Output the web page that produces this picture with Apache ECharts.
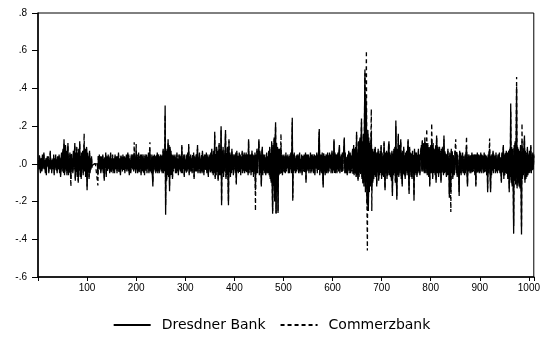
<!DOCTYPE html>
<html>
<head>
<meta charset="utf-8">
<script src="https://cdn.jsdelivr.net/npm/echarts@6/dist/echarts.min.js"></script>
<style>
  html, body { margin: 0; padding: 0; background: #fff; }
  #chart { width: 543px; height: 339px; }
</style>
</head>
<body>
<div id="chart"></div>
<script>
// Daily returns, observations 1..1010 (ten per row)
const dresdner = [
  .02,-.03,.04,-.01,-.05,.03,.01,-.04,.05,-.02,
  -.03,.06,-.02,.01,-.04,.03,-.06,.02,.04,-.01,
  .03,-.05,.02,-.02,.07,-.03,.01,-.04,.02,.03,
  -.02,.04,-.06,.03,-.01,.05,-.03,.02,-.05,.04,
  .01,-.02,.05,-.04,.02,-.07,.03,.06,-.03,.02,
  .08,-.04,.13,-.06,.05,.10,-.03,.07,-.05,.04,
  .11,-.06,.03,-.04,.06,-.02,-.08,.05,-.03,.02,
  -.05,.07,-.02,.04,.11,-.09,.06,-.04,.09,-.07,
  .05,-.10,.08,-.03,.12,-.06,.04,-.08,.06,-.02,
  .07,-.05,.03,.10,-.04,.08,-.07,.05,.09,-.14,
  .06,-.04,.03,-.08,.07,-.05,.02,-.03,.04,-.01,
  0,0,0,0,0,0,0,0,0,0,
  0,-.06,.04,-.02,.05,-.03,.03,-.05,.02,.04,
  -.03,.05,-.04,.02,-.09,.03,-.02,.06,-.07,.01,
  .04,-.03,.05,-.02,.03,-.05,.02,.06,-.04,.03,
  -.02,.04,-.05,.03,.02,-.04,.05,-.03,.01,.04,
  -.05,.03,-.02,.06,-.04,.02,.03,-.06,.04,-.02,
  .03,-.04,.05,-.03,.02,.04,-.05,.03,-.02,.05,
  -.04,.02,.06,-.03,.04,-.06,.02,.03,-.05,.04,
  -.02,.05,-.03,.04,-.04,.06,-.02,.03,-.05,.07,
  -.03,.04,-.05,.02,.06,-.04,.03,-.02,.05,-.06,
  .04,-.03,.02,.05,-.04,.03,-.06,.04,.02,-.03,
  .05,-.04,.03,-.02,.06,-.05,.04,.07,-.03,.02,
  -.04,.05,-.06,-.12,.04,-.03,.05,-.02,.03,-.05,
  .04,-.03,.06,-.05,.02,.04,-.04,.03,-.02,.05,
  -.03,.04,-.05,.03,.08,-.04,.06,-.03,.31,-.27,
  .06,-.09,.08,-.05,.13,-.07,.10,-.145,.09,-.06,
  .07,-.05,.04,-.08,.05,-.03,.04,-.02,.05,-.04,
  .03,-.05,.06,-.03,.02,-.06,.04,-.02,.05,-.03,
  .04,-.04,.10,-.05,.03,-.02,.05,-.07,.04,-.03,
  .02,-.04,.05,-.03,.06,-.02,.105,-.06,.03,-.04,
  .05,-.03,.02,-.05,.04,-.02,.06,-.08,.03,.02,
  -.04,.05,-.03,.04,.10,-.05,.03,-.02,.06,-.04,
  .02,-.05,.04,-.03,.07,-.04,.03,-.06,.05,-.02,
  .04,-.03,.06,-.05,.02,.04,-.07,.03,-.02,.05,
  -.04,.06,-.03,.08,-.05,.04,-.06,.07,-.04,.17,
  -.08,.05,-.06,.09,-.04,.07,-.09,.05,.11,-.06,
  .08,-.05,.20,-.22,.06,-.04,.09,-.07,.05,-.03,
  .07,.18,-.08,.05,-.06,.09,-.05,-.22,.13,-.04,
  .06,-.07,.04,-.05,.08,-.03,.05,-.06,.04,-.02,
  .05,-.04,.06,-.11,.07,-.03,.04,-.05,.03,.06,
  -.04,.05,-.06,.03,-.02,.07,-.05,.04,-.03,.06,
  -.05,.04,-.03,.06,-.04,.02,.05,-.06,.13,-.04,
  .05,-.03,.04,-.06,.03,.07,-.04,.05,-.07,.04,
  -.03,.06,-.14,.05,-.04,.08,-.05,.06,.03,.13,
  -.06,.07,-.04,.05,-.12,.06,.09,-.05,.04,-.03,
  .05,-.04,.03,-.06,.04,.06,-.05,.03,-.04,.07,
  -.06,.09,-.08,.05,-.10,.12,-.09,-.265,.10,-.12,
  .14,-.20,.09,.22,-.265,.11,-.15,.08,-.26,.07,
  -.06,.08,-.05,.06,.09,-.04,.05,-.06,.04,-.03,
  .05,-.04,.03,-.05,.06,-.03,.04,-.02,.05,-.04,
  .03,-.05,.04,-.02,.06,-.04,.03,.245,-.195,.05,
  -.04,.06,-.03,.02,-.05,.04,-.03,.05,-.02,.04,
  -.05,.03,.06,-.04,.02,-.03,.05,-.06,.04,.02,
  -.03,.05,-.04,.03,.06,-.10,.04,-.03,.05,-.02,
  .04,-.05,.03,-.02,.06,-.04,.05,-.03,.02,.04,
  -.04,.03,.05,-.06,.04,-.02,.03,.06,-.05,.04,
  -.03,.12,.185,-.06,.04,-.03,.05,-.04,.06,-.05,
  -.125,.05,-.03,.04,-.06,.03,.05,-.04,.02,.06,
  -.05,.04,-.03,.06,-.02,.05,-.04,.03,.07,-.05,
  .04,-.03,.13,-.04,.06,-.05,.03,.05,-.04,.02,
  .06,-.03,.04,.10,-.05,.03,-.02,.05,-.04,.06,
  -.03,.05,.08,.14,-.04,.06,-.05,.03,.04,-.06,
  .05,-.03,.07,-.04,.02,.06,-.05,.04,-.03,.05,
  .08,-.05,.10,-.06,.07,-.04,.09,-.07,.17,-.06,
  .05,-.09,.12,-.06,.08,.14,-.05,.10,.24,-.08,
  .12,-.10,.16,-.12,.22,.50,-.15,.35,.28,-.20,
  -.22,.18,-.25,.12,-.15,.10,-.12,.09,.17,-.14,
  .08,-.10,.06,-.08,.07,-.05,.09,-.07,.05,-.12,
  .06,-.04,.08,-.09,.05,-.06,.07,-.04,.10,-.08,
  .05,-.06,.04,-.07,.12,-.05,-.14,.06,-.04,.07,
  -.08,.05,-.06,.09,.12,-.05,.06,-.07,.04,-.09,
  .07,-.17,.05,-.06,.08,-.04,.09,-.10,.23,-.06,
  -.19,.08,-.05,.16,-.07,.10,-.04,.06,.13,-.08,
  .05,-.12,.07,-.05,.09,-.06,.04,-.08,.06,-.03,
  .07,-.05,.08,.13,-.06,-.16,.09,-.04,.06,-.07,
  .05,-.08,.07,-.05,.04,-.195,.08,-.06,.05,-.04,
  .06,-.07,.04,-.05,.08,-.03,.05,-.06,.04,.07,
  .09,-.04,.12,-.03,.08,.10,-.05,.14,.06,-.04,
  .11,.09,-.06,.10,.05,-.07,.08,-.12,.07,.09,
  -.05,.13,.06,-.08,.10,-.04,.07,.05,-.06,.09,
  -.10,.15,.06,-.05,.08,-.07,.04,.09,-.05,.06,
  -.10,.07,-.04,.08,.05,-.06,.15,-.05,.06,-.04,
  .05,-.07,.04,-.06,.08,-.05,.03,-.18,.06,-.09,
  -.15,.07,-.05,.06,-.08,.04,.05,-.06,.04,.07,
  .08,-.05,.06,-.07,.04,.05,-.06,-.17,.07,-.04,
  .05,-.06,.04,-.03,.06,-.05,.03,.04,-.06,.05,
  -.04,.06,.09,-.05,-.12,.04,-.03,.05,.06,-.04,
  .04,-.05,.03,.06,-.04,.05,-.03,.02,.05,-.06,
  .04,-.12,.05,-.03,.06,-.04,.03,.05,-.05,.04,
  -.03,.06,-.04,.05,-.02,.04,-.05,.03,.06,-.04,
  .05,-.03,.04,-.06,.03,-.15,.05,-.04,.06,.08,
  -.05,-.15,.04,-.06,.05,-.03,.07,-.04,.05,-.02,
  .04,-.05,.06,-.03,.02,-.04,.05,-.03,.04,.06,
  -.05,.03,.04,-.10,.06,-.04,.05,.10,-.08,.04,
  -.06,.05,-.04,.07,-.05,.06,-.08,.04,.07,-.15,
  .08,-.06,.32,-.10,.09,-.12,.07,-.08,-.37,.10,
  -.09,.12,-.11,.08,.41,-.13,.09,-.10,.07,-.12,
  .06,-.13,.10,-.09,-.375,.12,-.08,.07,-.06,.09,
  .15,-.10,.06,-.08,.05,-.07,.09,-.06,.04,-.05,
  .07,-.04,.06,.10,-.05,.04,-.03,.06,-.02,.04
];

const commerzbank = [
  .01,-.02,.05,-.02,-.04,.02,.02,-.03,.04,-.03,
  -.02,.05,-.03,.02,-.05,.02,-.05,.03,.03,-.02,
  .04,-.04,.01,-.03,.06,-.02,.02,-.05,.03,.02,
  -.03,.05,-.05,.02,-.02,.04,-.04,.03,-.04,.03,
  .02,-.03,.04,-.05,.03,-.06,.02,.05,-.04,.03,
  .07,-.05,.11,-.05,.06,.09,-.04,.06,-.06,.05,
  .10,-.05,.04,-.05,.05,-.03,-.12,.06,-.02,.03,
  -.04,.06,-.03,.05,.10,-.08,.05,-.05,.08,-.06,
  .06,-.09,.07,-.04,.11,-.07,.05,-.07,.05,-.03,
  .06,-.06,.04,.16,-.03,.07,-.06,.04,.08,-.12,
  .05,-.05,.04,-.07,.06,-.04,.03,-.02,.03,-.02,
  0,0,0,0,0,0,0,0,0,0,
  0,-.115,.05,-.03,.04,-.02,.04,-.04,.03,.03,
  -.02,.04,-.05,.03,-.08,.04,-.03,.05,-.06,.02,
  .03,-.04,.04,-.03,.04,-.04,.03,.05,-.05,.02,
  -.03,.05,-.04,.02,.03,-.05,.04,-.02,.02,.03,
  -.04,.04,-.03,.05,-.05,.03,.02,-.05,.05,-.03,
  .04,-.03,.04,-.04,.03,.03,-.04,.04,-.03,.04,
  -.03,.03,.05,-.04,.05,-.05,.03,.02,-.04,.05,
  -.03,.04,-.02,.05,-.03,.115,-.03,.04,-.04,.105,
  -.02,.05,-.04,.03,.05,-.05,.04,-.03,.04,-.05,
  .05,-.04,.03,.04,-.05,.04,-.05,.05,.03,-.04,
  .04,-.05,.04,-.03,.05,-.04,.05,.115,-.04,.03,
  -.05,.04,-.05,-.10,.05,-.04,.04,-.03,.04,-.04,
  .05,-.04,.05,-.04,.03,.05,-.05,.04,-.03,.04,
  -.04,.05,-.04,.04,.07,-.05,.05,-.04,.26,-.22,
  .07,-.08,.07,-.06,.11,-.06,.09,-.12,.08,-.05,
  .06,-.06,.05,-.07,.04,-.04,.05,-.03,.04,-.05,
  .04,-.04,.05,-.04,.03,-.05,.05,-.03,.04,-.04,
  .03,-.05,.09,-.04,.04,-.03,.04,-.06,.05,-.04,
  .03,-.05,.04,-.04,.05,-.03,.09,-.05,.04,-.03,
  .04,-.04,.03,-.04,.05,-.03,.05,-.07,.04,.03,
  -.03,.04,-.04,.05,.08,-.04,.04,-.03,.05,-.05,
  .03,-.04,.05,-.04,.06,-.05,.04,-.05,.04,-.03,
  .05,-.04,.05,-.04,.03,.05,-.06,.04,-.03,.04,
  -.05,.05,-.04,.07,-.04,.05,-.05,.06,-.05,.15,
  -.07,.06,-.05,.08,-.05,.06,-.08,.06,.10,-.05,
  .07,-.06,.18,-.20,.07,-.05,.08,-.06,.06,-.04,
  .06,.16,-.07,.06,-.05,.08,-.06,-.20,.12,-.05,
  .05,-.06,.05,-.04,.07,-.04,.04,-.05,.05,-.03,
  .04,-.05,.05,-.10,.06,-.04,.05,-.04,.04,.05,
  -.05,.04,-.05,.04,-.03,.06,-.04,.05,-.04,.05,
  -.04,.05,-.04,.05,-.05,.03,.04,-.05,.12,-.05,
  .04,-.04,.05,-.05,.04,.06,-.05,.04,-.06,.05,
  -.04,.05,-.25,.04,-.05,.07,-.04,.05,.04,.12,
  -.05,.06,-.05,.04,-.11,.05,.08,-.06,.05,-.04,
  .04,-.05,.04,-.05,.05,.05,-.04,.04,-.05,.06,
  -.05,.08,-.07,.06,-.09,.11,-.08,-.25,.09,-.11,
  .13,-.18,.08,.20,-.26,.10,-.14,.09,-.25,.08,
  -.05,.07,-.06,.05,.16,-.05,.04,-.05,.05,-.04,
  .04,-.05,.04,-.04,.05,-.04,.03,-.03,.04,-.05,
  .04,-.04,.05,-.03,.05,-.05,.04,.22,-.18,.04,
  -.05,.05,-.04,.03,-.04,.05,-.04,.04,-.03,.05,
  -.04,.04,.05,-.05,.03,-.04,.04,-.05,.05,.03,
  -.04,.04,-.05,.04,.05,-.09,.05,-.04,.04,-.03,
  .05,-.04,.04,-.03,.05,-.05,.04,-.04,.03,.05,
  -.05,.04,.04,-.05,.05,-.03,.04,.05,-.04,.05,
  -.04,.10,.17,-.05,.05,-.04,.04,-.05,.05,-.04,
  -.11,.06,-.04,.05,-.05,.04,.04,-.05,.03,.05,
  -.04,.05,-.04,.05,-.03,.04,-.05,.04,.06,-.04,
  .05,-.04,.12,-.05,.05,-.04,.04,.04,-.05,.03,
  .05,-.04,.05,.09,-.04,.04,-.03,.04,-.05,.05,
  -.04,.04,.07,.13,-.05,.05,-.04,.04,.05,-.05,
  .04,-.04,.06,-.05,.03,.05,-.04,.05,-.04,.04,
  .07,-.06,.09,-.05,.08,-.05,.08,-.06,.16,-.07,
  .06,-.08,.11,-.07,.07,.13,-.06,.09,.22,-.07,
  .11,-.11,.15,-.10,.20,.48,-.12,.30,.60,-.18,
  -.46,.16,-.23,.14,-.13,.11,-.11,.10,.29,-.25,
  .07,-.09,.07,-.07,.08,-.06,.08,-.06,.06,-.11,
  .05,-.05,.07,-.08,.06,-.05,.06,-.05,.09,-.07,
  .06,-.05,.05,-.06,.11,-.06,-.13,.05,-.05,.06,
  -.07,.06,-.05,.08,.11,-.06,.05,-.06,.05,-.08,
  .06,-.15,.06,-.05,.07,-.05,.08,-.09,.20,-.07,
  -.17,.07,-.06,.15,-.06,.09,-.05,.07,.12,-.07,
  .06,-.11,.06,-.06,.08,-.05,.05,-.07,.05,-.04,
  .06,-.06,.07,.12,-.05,-.14,.08,-.05,.05,-.06,
  .06,-.07,.06,-.06,.05,-.17,.07,-.05,.06,-.05,
  .05,-.06,.05,-.04,.07,-.04,.04,-.05,.05,.06,
  .10,-.03,.13,-.04,.09,.11,-.04,.12,.07,-.05,
  .10,.185,-.05,.11,.06,-.06,.09,-.11,.08,.10,
  -.04,.215,.07,-.07,.11,-.05,.08,.06,-.05,.10,
  -.09,.14,.07,-.04,.09,-.06,.05,.08,-.04,.07,
  -.09,.08,-.05,.09,.06,-.05,.13,-.04,.07,-.05,
  .06,-.06,.05,-.05,.07,-.06,.04,-.16,.05,-.08,
  -.255,.08,-.04,.07,-.07,.05,.06,-.05,.05,.06,
  .13,-.04,.07,-.06,.05,.06,-.05,-.15,.06,-.05,
  .06,-.05,.05,-.04,.05,-.04,.04,.05,-.05,.04,
  -.05,.05,.145,-.04,-.11,.05,-.04,.04,.05,-.05,
  .05,-.04,.04,.05,-.05,.04,-.04,.03,.04,-.05,
  .05,-.11,.04,-.04,.05,-.05,.04,.04,-.04,.05,
  -.04,.05,-.05,.04,-.03,.05,-.04,.04,.05,-.05,
  .04,-.04,.05,-.05,.04,-.13,.04,-.05,.05,.135,
  -.04,-.13,.05,-.05,.04,-.04,.06,-.05,.04,-.03,
  .05,-.04,.05,-.04,.03,-.05,.04,-.04,.05,.05,
  -.04,.04,.05,-.09,.05,-.05,.04,.09,-.07,.05,
  -.05,.06,-.05,.06,-.06,.05,-.07,.05,.06,-.13,
  .07,-.07,.28,-.09,.08,-.11,.08,-.07,-.33,.09,
  -.08,.11,-.10,.09,.46,-.12,.08,-.09,.08,-.11,
  .07,-.12,.09,-.08,-.34,.215,-.07,.08,-.05,.08,
  .13,-.09,.07,-.07,.06,-.06,.08,-.05,.05,-.04,
  .06,-.05,.05,.09,-.04,.05,-.04,.05,-.03,.05
];

const seriesNames = ['Dresdner Bank', 'Commerzbank'];
const yTicks = [-0.6, -0.4, -0.2, 0, 0.2, 0.4, 0.6, 0.8];
const xTicks = [100, 200, 300, 400, 500, 600, 700, 800, 900, 1000];

// pair each value with its observation number (1-based)
function toPoints(values) {
  return values.map((v, i) => [i + 1, v]);
}

// EViews-style labels: ".8", ".0", "-.2"
function fmtY(v) {
  const s = v.toFixed(1);
  return s.replace('0.', '.');
}

const chart = echarts.init(document.getElementById('chart'), null, { renderer: 'canvas' });

const axisFont = { fontFamily: 'Liberation Sans, Arial, sans-serif', fontSize: 10, color: '#000' };

chart.setOption({
  animation: false,
  backgroundColor: '#fff',
  grid: {
    left: 38, right: 8, top: 13, bottom: 62,
    show: true, borderColor: '#000', borderWidth: 1, backgroundColor: 'transparent'
  },
  legend: {
    bottom: 2,
    left: 'center',
    itemWidth: 37,
    itemHeight: 10,
    itemGap: 14,
    itemStyle: { opacity: 0 },
    textStyle: {
      fontFamily: 'DejaVu Sans, sans-serif', fontSize: 14, color: '#000',
      padding: [0, 0, 0, 6]
    },
    data: seriesNames.map(n => ({ name: n }))
  },
  xAxis: {
    type: 'value',
    min: 0,
    max: 1010,
    interval: 100,
    splitLine: { show: false },
    axisLine: { onZero: false, lineStyle: { color: '#000', width: 1.5 } },
    axisTick: { show: true, length: 4, lineStyle: { color: '#000' } },
    axisLabel: Object.assign({
      margin: 6,
      formatter: v => (xTicks.indexOf(v) >= 0 ? String(v) : '')
    }, axisFont)
  },
  yAxis: {
    type: 'value',
    min: -0.6,
    max: 0.8,
    interval: 0.2,
    splitLine: { show: false },
    axisLine: { onZero: false, lineStyle: { color: '#000', width: 1.5 } },
    axisTick: { show: true, length: 6, lineStyle: { color: '#000' } },
    axisLabel: Object.assign({
      margin: 11,
      formatter: v => {
        const hit = yTicks.find(t => Math.abs(t - v) < 1e-9);
        return hit === undefined ? '' : fmtY(hit);
      }
    }, axisFont)
  },
  series: [
    {
      name: seriesNames[1],
      type: 'line',
      data: toPoints(commerzbank),
      showSymbol: false,
      symbol: 'none',
      z: 2,
      lineStyle: { color: '#000', width: 1.3, type: [4, 3] },
      itemStyle: { color: '#000' }
    },
    {
      name: seriesNames[0],
      type: 'line',
      data: toPoints(dresdner),
      showSymbol: false,
      symbol: 'none',
      z: 3,
      lineStyle: { color: '#000', width: 1.3, type: 'solid' },
      itemStyle: { color: '#000' }
    }
  ]
});
</script>
</body>
</html>
